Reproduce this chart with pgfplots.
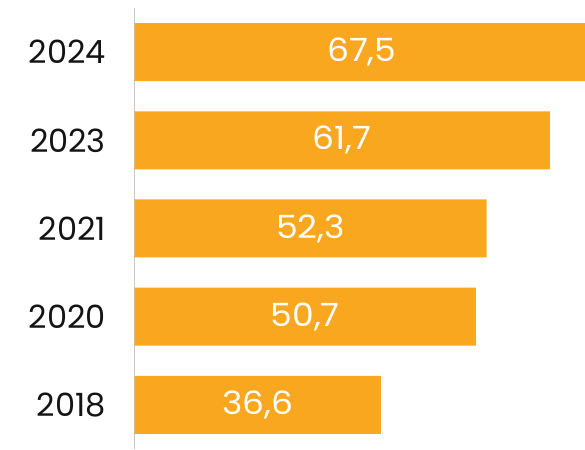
\documentclass[border=0pt]{standalone}
\usepackage{pgfplots}
\pgfplotsset{compat=1.18}
\usepackage{fontspec}
\setmainfont{Poppins}
\newfontfamily\valfont[FakeStretch=1.08]{Poppins}
\definecolor{barorange}{HTML}{F8A71E}
\begin{document}
\begin{tikzpicture}
\begin{axis}[
  name=ax,
  scale only axis,
  width=450.5pt, height=441pt,
  xmin=0, xmax=66.9,
  ymin=-0.5, ymax=4.5,
  axis x line=none,
  axis y line*=left,
  y axis line style={draw=black!22, line width=1.2pt},
  ytick={0,1,2,3,4},
  yticklabels={2018,2020,2021,2023,2024},
  major tick length=0pt,
  yticklabel style={font=\fontsize{32}{38}\selectfont, text=black!92, inner sep=0pt, anchor=east, xshift=-28.5pt},
  /pgf/number format/assume math mode=true,
  clip=false,
]
\addplot[xbar, bar width=58pt, fill=barorange, draw=none, bar shift=0pt]
  coordinates {(36.6,0) (50.7,1) (52.3,2) (61.7,3) (67.5,4)};
\addplot[draw=none, mark=none, nodes near coords,
  point meta={\thisrow{v}},
  nodes near coords style={anchor=center, text=white, font=\valfont\fontsize{32}{38}\selectfont,
    /pgf/number format/.cd, fixed, fixed zerofill, precision=1, use comma, assume math mode=true}]
  table[x expr=\thisrow{v}/2, y=y] {
    y v
    0 36.6
    1 50.7
    2 52.3
    3 61.7
    4 67.5
  };
\end{axis}
\pgfresetboundingbox
\path ([xshift=-134.5pt]ax.south west) rectangle ([yshift=8pt]ax.north east);
\end{tikzpicture}
\end{document}
